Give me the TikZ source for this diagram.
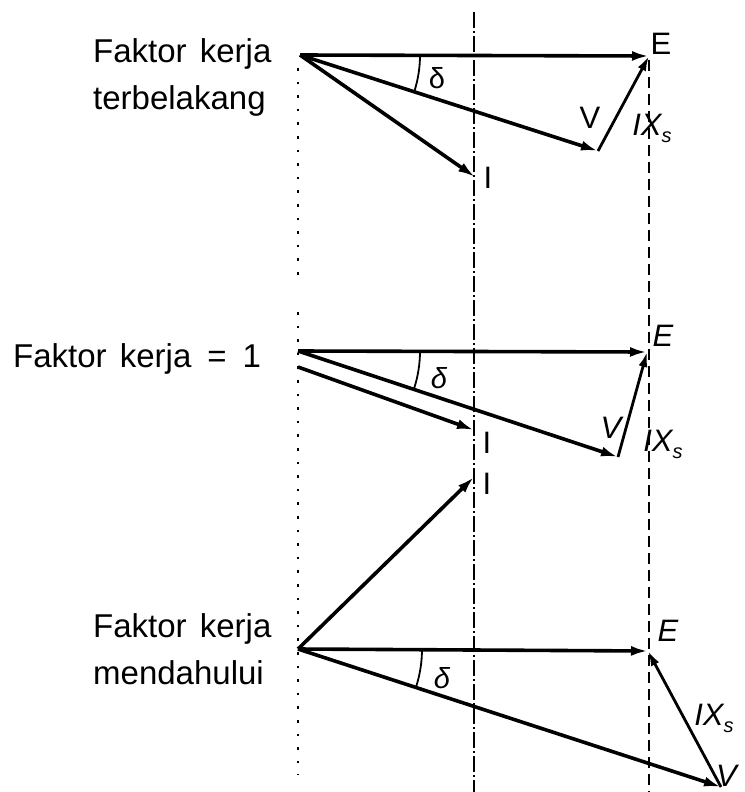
\documentclass[tikz,border=0pt]{standalone}
\usepackage{fontspec}
\setmainfont{Liberation Sans}
\usetikzlibrary{arrows.meta}
\newcommand{\subs}{\raisebox{-7pt}{\fontsize{20}{20}\selectfont s}}
\begin{document}
\begin{tikzpicture}[x=1pt,y=-1pt,
  vec/.style={line width=3.6pt,-{Latex[length=17pt,width=10pt]}},
  vecthin/.style={line width=2.8pt,-{Latex[length=15pt,width=9pt]}},
  angarc/.style={line width=1.8pt},
  dotline/.style={line width=2.6pt,dash pattern=on 2.6pt off 11pt},
  dashdotline/.style={line width=1.5pt,dash pattern=on 16pt off 3pt on 2pt off 3pt},
  dashline/.style={line width=1.7pt,dash pattern=on 11pt off 6pt},
  lbl/.style={inner sep=0pt,font=\fontsize{31}{36}\selectfont},
  dlbl/.style={inner sep=0pt,font=\fontsize{29}{34}\selectfont},
  side/.style={inner sep=0pt,anchor=north west,align=left,font=\fontsize{33}{47}\selectfont}]
\useasboundingbox (0,0) rectangle (744,792);
% guide lines
\coordinate (dTop) at (298,68);
\coordinate (dMidA) at (298,280);
\coordinate (dMidB) at (298,312);
\coordinate (dBot) at (298,775);
\coordinate (cTop) at (474,12);
\coordinate (cBot) at (474,792);
\coordinate (eTop) at (649,60);
\coordinate (eBot) at (649,792);
\draw[dotline] (dTop) -- (dMidA);
\draw[dotline] (dMidB) -- (dBot);
\draw[dashdotline] (cTop) -- (cBot);
\draw[dashline] (eTop) -- (eBot);
% side texts
\node[side] (t1) at (93,38) {Faktor\hspace{4pt} kerja\\terbelakang};
\node[side] (t2) at (13,343) {Faktor\hspace{4pt} kerja\hspace{16pt}=\hspace{16pt}1};
\node[side] (t3) at (93,613) {Faktor\hspace{4pt} kerja\\mendahului};
% top diagram
\coordinate (O1) at (300,55);
\coordinate (E1) at (649,56);
\coordinate (V1) at (598,151);
\coordinate (I1) at (475,177);
\draw[vec] (O1) -- (E1);
\draw[vec] (O1) -- (V1);
\draw[vec] (O1) -- (I1);
\draw[vecthin] (V1) -- (E1);
\draw[angarc] ([xshift=120pt]O1) arc[start angle=0,end angle=-17.86,radius=120pt];
\node[lbl] (E1l) at (661,44) {E};
\node[lbl] (V1l) at (590,118) {V};
\node[lbl] (X1l) at (652,128) {\itshape IX\subs};
\node[lbl] (I1l) at (488,178) {I};
\node[dlbl] (d1l) at (437,78) {δ};
% middle diagram
\coordinate (O2) at (298,351);
\coordinate (E2) at (647,352);
\coordinate (V2) at (618,457);
\coordinate (I2s) at (298,367);
\coordinate (I2) at (474,430);
\draw[vec] (O2) -- (E2);
\draw[vec] (O2) -- (V2);
\draw[vec] (I2s) -- (I2);
\draw[vecthin] (V2) -- (E2);
\draw[angarc] ([xshift=122pt]O2) arc[start angle=0,end angle=-18.33,radius=122pt];
\node[lbl] (E2l) at (663,336) {\itshape E};
\node[lbl] (V2l) at (611,428) {\itshape V};
\node[lbl] (X2l) at (663,444) {\itshape IX\subs};
\node[lbl] (I2l) at (487,443) {I};
\node[dlbl] (d2l) at (439,378) {\itshape δ};
% bottom diagram
\coordinate (O3) at (298,649);
\coordinate (E3) at (648,651);
\coordinate (V3) at (721,787);
\coordinate (I3) at (474,477);
\draw[vec] (O3) -- (E3);
\draw[vec] (O3) -- (V3);
\draw[vec] (O3) -- (I3);
\draw[vecthin] (V3) -- (E3);
\draw[angarc] ([xshift=124pt]O3) arc[start angle=0,end angle=-18.07,radius=124pt];
\node[lbl] (I3l) at (487,484) {I};
\node[lbl] (E3l) at (668,631) {\itshape E};
\node[lbl] (X3l) at (714,718) {\itshape IX\subs};
\node[lbl,anchor=east] (V3l) at (737,776) {\itshape V};
\node[dlbl] (d3l) at (442,678) {\itshape δ};
\end{tikzpicture}
\end{document}
